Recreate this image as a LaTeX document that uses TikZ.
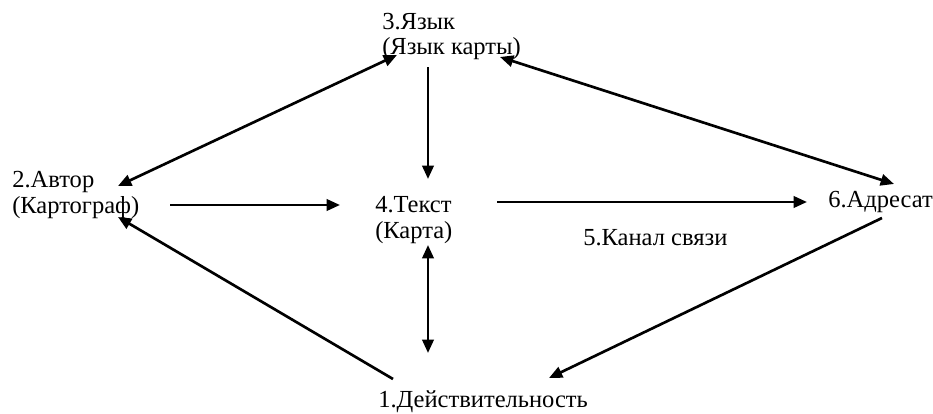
\documentclass[tikz,border=0pt]{standalone}
\usepackage{fontspec}
\setmainfont{Liberation Serif}
\usetikzlibrary{arrows.meta}

\begin{document}
\begin{tikzpicture}
  [x=0.75pt,y=-0.75pt,
  lbl/.style={anchor=base west,inner sep=0pt,align=left,
    font=\rmfamily\fontsize{18.4}{19.5}\selectfont},
  con/.style={line width=2pt,-{Triangle[length=10pt,width=8.5pt]}},
  dcon/.style={line width=2pt,{Triangle[length=10pt,width=8.5pt]}-{Triangle[length=10pt,width=8.5pt]}}]
  \useasboundingbox (0,0) rectangle (933,414);
  % labels (base = last line)
  \node[lbl] (real) at (378,407) {1.Действительность};
  \node[lbl] (author) at (12,213) {2.Автор\\(Картограф)};
  \node[lbl] (lang) at (382,55) {3.Язык\\(Язык карты)};
  \node[lbl] (text) at (375,238) {4.Текст\\(Карта)};
  \node[lbl] (channel) at (583,245) {5.Канал связи};
  \node[lbl] (addr) at (828,207) {6.Адресат};
  % ends of the arrows
  \coordinate (langL) at (397,55);
  \coordinate (langB) at (428,67);
  \coordinate (langR) at (500,57);
  \coordinate (authT) at (118,186);
  \coordinate (authR) at (170,205);
  \coordinate (authB) at (118,217);
  \coordinate (textT) at (428,179);
  \coordinate (textL) at (340,205);
  \coordinate (textR) at (497,202);
  \coordinate (textB) at (428,245);
  \coordinate (addrT) at (894,184);
  \coordinate (addrL) at (807,202);
  \coordinate (addrB) at (882,218);
  \coordinate (realT) at (428,353);
  \coordinate (realL) at (393,379);
  \coordinate (realR) at (549,378);
  \path (langL) edge[dcon] (authT)
        (langB) edge[con] (textT)
        (langR) edge[dcon] (addrT)
        (authR) edge[con] (textL)
        (textR) edge[con] (addrL)
        (textB) edge[dcon] (realT)
        (realL) edge[con] (authB)
        (addrB) edge[con] (realR);
\end{tikzpicture}
\end{document}
